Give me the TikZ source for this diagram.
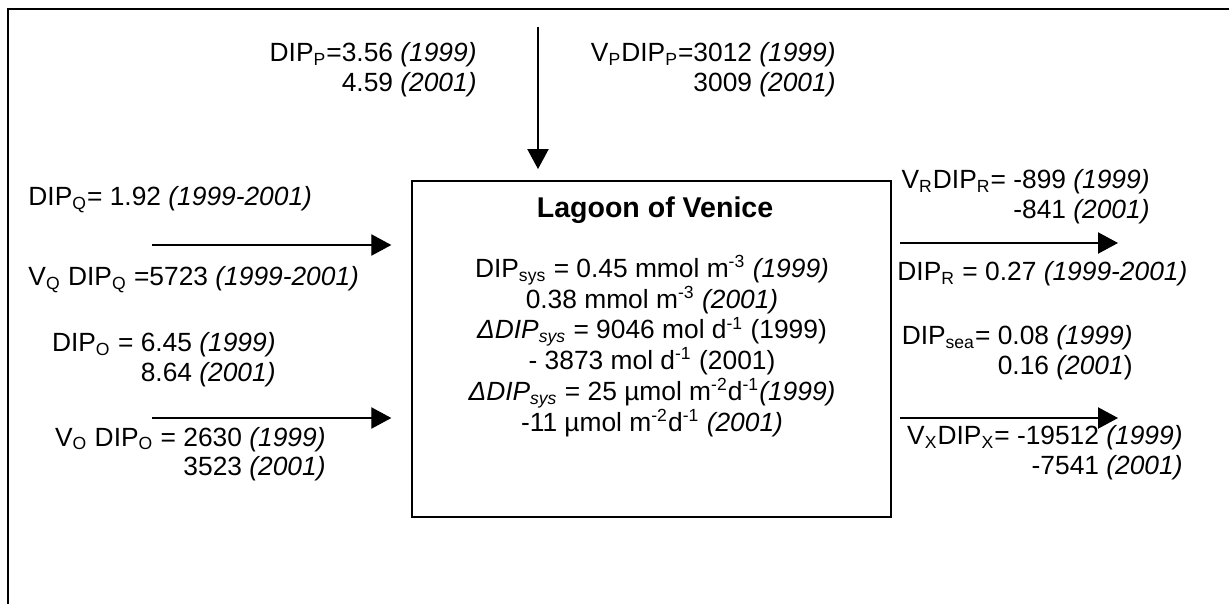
\documentclass[tikz,border=0pt]{standalone}
\usepackage{fontspec}
\setmainfont{Liberation Sans}
\usetikzlibrary{arrows.meta}
\newcommand{\lsub}[1]{\textsubscript{#1}}
\newcommand{\lsup}[1]{\textsuperscript{#1}}

\begin{document}
\begin{tikzpicture}[x=0.016cm, y=-0.016cm, every node/.style={inner sep=0pt, font=\fontsize{12}{13.5}\selectfont},
	flow/.style={line width=0.6pt, -{Triangle[length=0.32cm, width=0.34cm]}},
	flux/.style={align=right, anchor=east},
	frame/.style={line width=1pt}]
				\useasboundingbox (0,0) rectangle (1229,604);

				% Frame
				\coordinate (ftr) at (1229,9);
				\coordinate (ftl) at (8,9);
				\coordinate (fbl) at (8,604);
				\draw[frame] (ftr) -- (ftl) -- (fbl);

				% Box
				\node[draw, line width=0.7pt, minimum width=7.664cm, minimum height=5.376cm] (lagoon) at (651.5,349) {};
				\node[font=\fontsize{13}{15}\selectfont\bfseries] (title) at (655,210) {Lagoon of Venice};
				\node[align=center, font=\fontsize{12}{14}\selectfont] (state) at (652,346) {DIP\lsub{sys} = 0.45 mmol m\lsup{-3} \textit{(1999)}\\
					0.38 mmol m\lsup{-3} \textit{(2001)}\\
					\textit{ΔDIP\lsub{sys}} = 9046 mol d\lsup{-1} (1999)\\
					- 3873 mol d\lsup{-1} (2001)\\
					\textit{ΔDIP\lsub{sys}} = 25 µmol m\lsup{-2}d\lsup{-1}\textit{(1999)}\\
					-11 µmol m\lsup{-2}d\lsup{-1} \textit{(2001)}};

				% Flux labels
				\node[flux] (dipp) at (477,70) {DIP\lsub{P}=3.56 \textit{(1999)}\\ 4.59 \textit{(2001)}};
				\node[flux] (vpdipp) at (836,70) {V\lsub{P}DIP\lsub{P}=3012 \textit{(1999)}\\ 3009 \textit{(2001)}};
				\node[anchor=west] (dipq) at (28,200) {DIP\lsub{Q}= 1.92 \textit{(1999-2001)}};
				\node[anchor=west] (vqdipq) at (28,280) {V\lsub{Q} DIP\lsub{Q} =5723 \textit{(1999-2001)}};
				\node[flux] (dipo) at (276,360) {DIP\lsub{O} = 6.45 \textit{(1999)}\\ 8.64 \textit{(2001)}};
				\node[flux] (vodipo) at (326,454) {V\lsub{O} DIP\lsub{O} = 2630 \textit{(1999)}\\ 3523 \textit{(2001)}};
				\node[flux] (vrdipr) at (1150,197) {V\lsub{R}DIP\lsub{R}= -899 \textit{(1999)}\\ -841 \textit{(2001)}};
				\node[anchor=west] (dipr) at (897,274) {DIP\lsub{R} = 0.27 \textit{(1999-2001)}};
				\node[flux] (dipsea) at (1133,353) {DIP\lsub{sea}= 0.08 \textit{(1999)}\\ 0.16 \textit{(2001})};
				\node[flux] (vxdipx) at (1183,453) {V\lsub{X}DIP\lsub{X}= -19512 \textit{(1999)}\\ -7541 \textit{(2001)}};

				% Arrow ends
				\coordinate (pin) at (538,27);
				\coordinate (qin) at (152,245);
				\coordinate (oin) at (152,418);
				\coordinate (rout) at (1118,243);
				\coordinate (xout) at (1118,418);

				% Edges
				\draw[flow, shorten >=0.18cm] (pin) -- (pin |- lagoon.north);
				\draw[flow, shorten >=0.32cm] (qin) -- (lagoon.west |- qin);
				\draw[flow, shorten >=0.32cm] (oin) -- (lagoon.west |- oin);
				\draw[flow, shorten <=0.14cm] (lagoon.east |- rout) -- (rout);
				\draw[flow, shorten <=0.14cm] (lagoon.east |- xout) -- (xout);
			\end{tikzpicture}
\end{document}
